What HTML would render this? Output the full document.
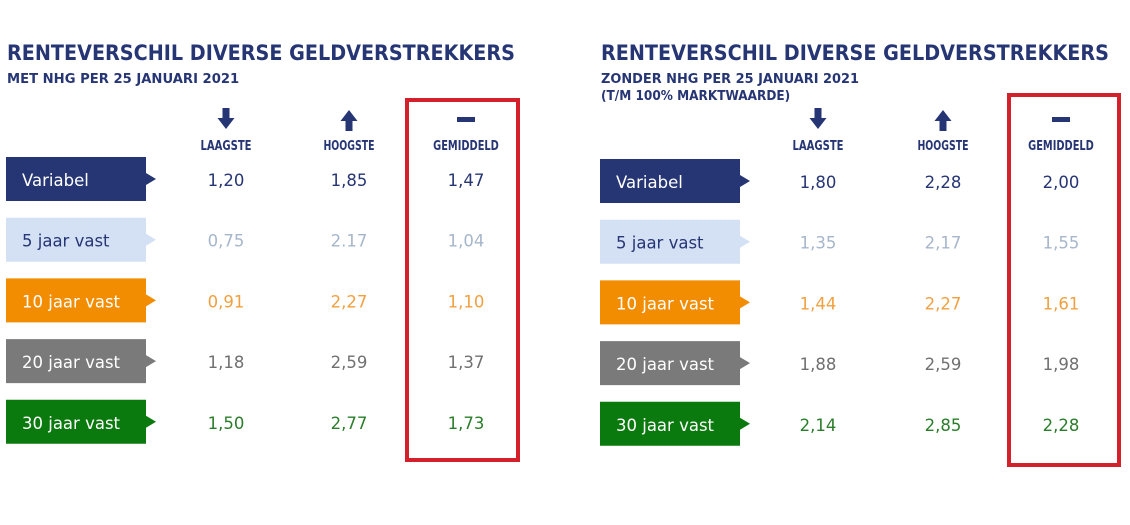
<!DOCTYPE html>
<html><head><meta charset="utf-8"><style>
html,body{margin:0;padding:0;background:#fff;width:1130px;height:525px;overflow:hidden}
svg{display:block;font-family:"DejaVu Sans","Liberation Sans",sans-serif}
</style></head><body>
<svg id="c" width="1130" height="525"></svg>
<script>
const categories=["Variabel","5 jaar vast","10 jaar vast","20 jaar vast","30 jaar vast"];
const columns=["LAAGSTE","HOOGSTE","GEMIDDELD"];
const nhgLow=["1,20","0,75","0,91","1,18","1,50"];
const nhgHigh=["1,85","2.17","2,27","2,59","2,77"];
const nhgAvg=["1,47","1,04","1,10","1,37","1,73"];
const freeLow=["1,80","1,35","1,44","1,88","2,14"];
const freeHigh=["2,28","2,17","2,27","2,59","2,85"];
const freeAvg=["2,00","1,55","1,61","1,98","2,28"];
const boxColors=["#263574","#d4e0f4","#f28c00","#7a7a7a","#0b7a0e"];
const labelColors=["#ffffff","#263574","#ffffff","#ffffff","#ffffff"];
const valColors=["#263574","#a6b6cc","#f0a040","#707070","#2a7d2a"];
const NS="http://www.w3.org/2000/svg";
const svg=document.getElementById('c');
function mk(t,a,p){const e=document.createElementNS(NS,t);for(const k in a)e.setAttribute(k,a[k]);(p||svg).appendChild(e);return e;}
function txt(s,a,name){const e=mk('text',a);e.textContent=s;


return e;}
function panel(px,title,subs,lows,highs,avgs,colX,rowY,red,key){
  const g=mk('g',{});
  
  
  txt(title,{x:px,y:60,'font-size':21,'font-weight':'bold',fill:'#263574',textLength:508,lengthAdjust:'spacingAndGlyphs'},key+'-title');
  subs.forEach((s,i)=>txt(s,{x:px,y:83+i*17,'font-size':13.5,'font-weight':'bold',fill:'#263574',textLength:s.length*8.6,lengthAdjust:'spacingAndGlyphs'},key+'-subtitle'));
  const r=mk('rect',{x:red[0],y:red[1],width:red[2],height:red[3],fill:'none',stroke:'#d4202a','stroke-width':4});
  
  
  columns.forEach((c,i)=>{
    const cx=colX[i];
    txt(c,{x:cx,y:150,'font-size':13,'font-weight':'bold',fill:'#263574','text-anchor':'middle',textLength:c.length*7.3,lengthAdjust:'spacingAndGlyphs'},key+'-col-header');
    let ic;
    if(i==0) ic=mk('path',{d:`M${cx-3.5} 108h7v10h5l-8.5 11l-8.5 -11h5z`,fill:'#263574'});
    else if(i==1) ic=mk('path',{d:`M${cx-3.5} 131h7v-10h5l-8.5 -11l-8.5 11h5z`,fill:'#263574'});
    else ic=mk('rect',{x:cx-9,y:117,width:18,height:5,fill:'#263574'});
    
    
  });
  categories.forEach((cat,j)=>{
    const y=rowY+j*60.7;
    const b=mk('path',{d:`M${px-1} ${y}h140v16l10 6l-10 6v16h-140z`,fill:boxColors[j]});
    
    
    txt(cat,{x:px+15,y:y+29,'font-size':16.5,fill:labelColors[j]},key+'-row-label');
    [lows,highs,avgs].forEach((arr,i)=>txt(arr[j],{x:colX[i],y:y+29,'font-size':16.5,fill:valColors[j],'text-anchor':'middle'},key+'-value'));
  });
}
panel(7,"RENTEVERSCHIL DIVERSE GELDVERSTREKKERS",["MET NHG PER 25 JANUARI 2021"],nhgLow,nhgHigh,nhgAvg,[226,349,466],157,[407,100,111,360],'nhg');
panel(601,"RENTEVERSCHIL DIVERSE GELDVERSTREKKERS",["ZONDER NHG PER 25 JANUARI 2021","(T/M 100% MARKTWAARDE)"],freeLow,freeHigh,freeAvg,[818,943,1061],159,[1009,95,110,370],'no-nhg');
</script>
</body></html>
